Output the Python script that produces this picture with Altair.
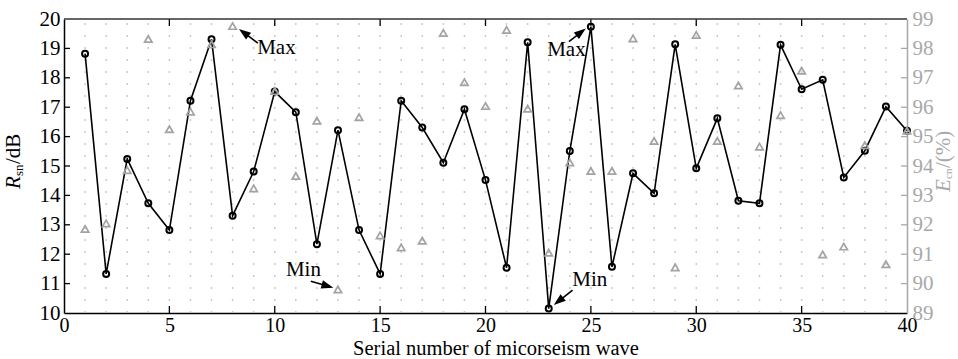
import math
import altair as alt
import pandas as pd

# ---------------- data ----------------
serial = list(range(1, 41))
rsn = [18.82, 11.33, 15.24, 13.73, 12.82, 17.22, 19.31, 13.31, 14.81, 17.53,
       16.83, 12.34, 16.22, 12.82, 11.33, 17.22, 16.31, 15.11, 16.93, 14.52,
       11.54, 19.21, 10.15, 15.51, 19.74, 11.57, 14.75, 14.07, 19.14, 14.92,
       16.62, 13.82, 13.73, 19.12, 17.61, 17.93, 14.61, 15.52, 17.02, 16.20]
ecn = [91.86, 92.05, 93.86, 98.32, 95.25, 95.85, 98.14, 98.76, 93.24, 96.55,
       93.66, 95.54, 89.80, 95.66, 91.64, 91.23, 91.46, 98.53, 96.85, 96.04,
       98.63, 95.95, 91.05, 94.12, 93.83, 93.83, 98.34, 94.85, 90.55, 98.46,
       94.85, 96.74, 94.66, 95.73, 97.24, 90.99, 91.26, 94.71, 90.66, 95.20]

x_ticks = [0, 5, 10, 15, 20, 25, 30, 35, 40]
y_left_ticks = list(range(10, 21))
y_right_ticks = list(range(89, 100))
grid_x = list(range(1, 40))

ann_text = ["Max", "Min", "Max", "Min"]
ann_x = [10.08, 11.36, 23.84, 24.95]
ann_y = [19.00, 11.46, 18.95, 11.12]
arrow_tail_x = [9.20, 11.71, 23.96, 24.13]
arrow_tail_y = [19.18, 11.08, 19.23, 10.78]
arrow_head_x = [8.30, 12.78, 24.76, 23.24]
arrow_head_y = [19.66, 10.86, 19.68, 10.27]

x_title = "Serial number of micorseism wave"

# ---------------- layout/style ----------------
W, H = 843, 294
FONT = "Liberation Serif"
FS = 21
LFS = 20
GRAY_AX = "#a8a8a8"
TRI = "#a3a3a3"
GRID = "#b8b8b8"

x_dom = [0, 40]
yl_dom = [10, 20]
yr_dom = [89, 99]

xscale = alt.Scale(domain=x_dom, nice=False, zero=False)
ylscale = alt.Scale(domain=yl_dom, nice=False, zero=False)
yrscale = alt.Scale(domain=yr_dom, nice=False, zero=False)

xaxis = alt.Axis(values=x_ticks, ticks=False, grid=False, domainColor="black",
                 domainWidth=1.5, labelFont=FONT, labelFontSize=LFS,
                 labelColor="black", labelPadding=2, labelFlush=False,
                 title=x_title, titleFont=FONT, titleFontSize=20.5,
                 titleFontWeight="normal", titleColor="black",
                 titleX=W / 2 + 10, titleY=41, titleAlign="center",
                 titleBaseline="alphabetic")
ylaxis = alt.Axis(values=y_left_ticks, ticks=False, grid=False, orient="left",
                  domainColor="black", domainWidth=1.5, labelFont=FONT,
                  labelFontSize=FS, labelColor="black", labelPadding=4,
                  labelFlush=False, title=None)
yraxis = alt.Axis(values=y_right_ticks, ticks=False, grid=False, orient="right",
                  domainColor=GRAY_AX, domainWidth=1.5, labelFont=FONT,
                  labelFontSize=FS, labelColor=GRAY_AX, labelPadding=5,
                  labelFlush=False, title=None)


def X(f):
    return alt.X(f, type="quantitative", scale=xscale, axis=xaxis)


def YL(f):
    return alt.Y(f, type="quantitative", scale=ylscale, axis=ylaxis)


def YR(f):
    return alt.Y(f, type="quantitative", scale=yrscale, axis=yraxis)


main = pd.DataFrame({"x": serial, "r": rsn, "e": ecn})
grid_df = pd.DataFrame({"x": grid_x, "top": yl_dom[1], "bot": yl_dom[0]})
xt_df = pd.DataFrame({"x": x_ticks[1:-1]})
ylt_df = pd.DataFrame({"y": y_left_ticks[1:-1]})
yrt_df = pd.DataFrame({"y": y_right_ticks[1:-1]})
ann_df = pd.DataFrame({"t": ann_text, "x": ann_x, "y": ann_y})

# arrow geometry (pixel-aware rotation of the heads)
sx, sy = W / (x_dom[1] - x_dom[0]), H / (yl_dom[1] - yl_dom[0])
HEAD = 12
rows = []
for tx, ty, hx, hy in zip(arrow_tail_x, arrow_tail_y, arrow_head_x, arrow_head_y):
    dxp, dyp = (hx - tx) * sx, -(hy - ty) * sy
    L = math.hypot(dxp, dyp)
    ux, uy = dxp / L, dyp / L
    ang = math.degrees(math.atan2(ux, -uy)) % 360
    cx = hx - (HEAD / 2) * ux / sx
    cy = hy + (HEAD / 2) * uy / sy
    bx = hx - (HEAD * 0.8) * ux / sx
    by = hy + (HEAD * 0.8) * uy / sy
    rows.append({"tx": tx, "ty": ty, "bx": bx, "by": by, "cx": cx, "cy": cy, "ang": ang})
arr_df = pd.DataFrame(rows)

one = pd.DataFrame({"a": [0]})

grid = alt.Chart(grid_df).mark_rule(color=GRID, strokeWidth=1.5, strokeDash=[1.4, 10.6],
                                    strokeDashOffset=7.7, strokeCap="butt").encode(
    x=X("x"), y=YL("top"), y2="bot")

line = alt.Chart(main).mark_line(color="black", strokeWidth=1.6).encode(x=X("x"), y=YL("r"))
circles = alt.Chart(main).mark_point(shape="circle", filled=False, color="black",
                                     size=36, strokeWidth=2, opacity=1).encode(
    x=X("x"), y=YL("r"))

left_ticks = alt.Chart(ylt_df).mark_rule(color="black", strokeWidth=1.3).encode(
    y=YL("y"), x=alt.value(0), x2=alt.value(6))
bottom_ticks = alt.Chart(xt_df).mark_rule(color="black", strokeWidth=1.3).encode(
    x=X("x"), y=alt.value(H), y2=alt.value(H - 7))
top_ticks = alt.Chart(xt_df).mark_rule(color="black", strokeWidth=1.3).encode(
    x=X("x"), y=alt.value(0), y2=alt.value(7))
top_border = alt.Chart(one).mark_rule(color="#333333", strokeWidth=1.5).encode(
    x=alt.value(0), x2=alt.value(W), y=alt.value(0))

ann = alt.Chart(ann_df).mark_text(font=FONT, fontSize=FS, color="black",
                                  align="center", baseline="middle").encode(
    x=X("x"), y=YL("y"), text="t")
arrow_lines = alt.Chart(arr_df).mark_rule(color="black", strokeWidth=1.6).encode(
    x=X("tx"), y=YL("ty"), x2="bx", y2="by")
arrow_heads = alt.Chart(arr_df).mark_point(shape="M0,-1L0.7,1L-0.7,1Z", filled=True,
                                           color="black", size=HEAD * HEAD, opacity=1).encode(
    x=X("cx"), y=YL("cy"), angle=alt.Angle("ang", type="quantitative", scale=None))

# left axis title: R_sn/dB
t_R = alt.Chart(one).mark_text(font=FONT, fontSize=FS, fontStyle="italic", angle=270,
                               align="left", baseline="alphabetic", color="black").encode(
    x=alt.value(-44), y=alt.value(170), text=alt.value("R"))
t_sn = alt.Chart(one).mark_text(font=FONT, fontSize=13, angle=270, align="left",
                                baseline="alphabetic", color="black").encode(
    x=alt.value(-41), y=alt.value(157), text=alt.value("sn"))
t_dB = alt.Chart(one).mark_text(font=FONT, fontSize=FS, angle=270, align="left",
                                baseline="alphabetic", color="black").encode(
    x=alt.value(-44), y=alt.value(145), text=alt.value("/dB"))

# right axis title: E_cn/(%)
r_E = alt.Chart(one).mark_text(font=FONT, fontSize=FS, fontStyle="italic", angle=270,
                               align="left", baseline="alphabetic", color=GRAY_AX).encode(
    x=alt.value(W + 43), y=alt.value(173), text=alt.value("E"))
r_cn = alt.Chart(one).mark_text(font=FONT, fontSize=11, angle=270, align="left",
                                baseline="alphabetic", color=GRAY_AX).encode(
    x=alt.value(W + 45), y=alt.value(160), text=alt.value("cn"))
r_pc = alt.Chart(one).mark_text(font=FONT, fontSize=FS, angle=270, align="left",
                                baseline="alphabetic", color=GRAY_AX).encode(
    x=alt.value(W + 43), y=alt.value(149), text=alt.value("/(%)"))

tris = alt.Chart(main).mark_point(shape="triangle-up", filled=False, color=TRI,
                                  size=55, strokeWidth=1.7, opacity=1).encode(
    x=X("x"), y=YR("e"))
right_ticks = alt.Chart(yrt_df).mark_rule(color=GRAY_AX, strokeWidth=1.3).encode(
    y=YR("y"), x=alt.value(W - 6), x2=alt.value(W))

left_group = alt.layer(grid, left_ticks, bottom_ticks, top_ticks, top_border,
                       line, circles, ann, arrow_lines, arrow_heads,
                       t_R, t_sn, t_dB, r_E, r_cn, r_pc)
right_group = alt.layer(tris, right_ticks)

chart = alt.layer(left_group, right_group).resolve_scale(y="independent").properties(
    width=W, height=H,
    autosize=alt.AutoSizeParams(type="none"),
    padding={"left": 64, "top": 19, "right": 51, "bottom": 46},
    background="white",
).configure_view(stroke=None)

chart.save("out.html", embed_options={"renderer": "svg", "actions": False})
